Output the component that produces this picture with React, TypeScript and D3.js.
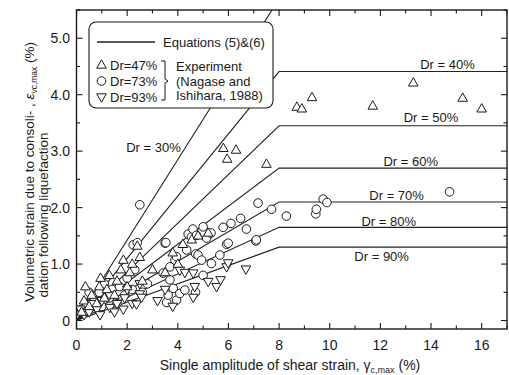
import { useEffect, useRef } from 'react';
import * as d3 from 'd3';

// Equations (5)&(6): plateau of each Dr line reached at gamma = 8 %
const drLevels = [30, 40, 50, 60, 70, 80, 90];
const drPlateaus = [5.7, 4.41, 3.45, 2.7, 2.1, 1.65, 1.3];
const gammaLimit = 8;

// label placement per Dr line (x in %, y in %)
const drLabelX = [3.04, 14.65, 14.0, 13.2, 12.64, 12.33, 12.05];
const drLabelY = [2.99, 4.45, 3.51, 2.74, 2.14, 1.67, 1.05];

// Experiment (Nagase and Ishihara, 1988)
const dr47: [number, number][] = [
  [0.2, 0.15], [0.3, 0.35], [0.35, 0.6], [0.5, 0.25], [0.6, 0.45], [0.8, 0.3], [0.9, 0.6], [0.95, 0.75],
  [1.1, 0.4], [1.2, 0.55], [1.3, 0.8], [1.5, 0.45], [1.6, 0.7], [1.75, 0.9], [1.85, 1.07], [2.0, 0.6],
  [2.1, 0.85], [2.2, 1.0], [2.4, 1.32], [2.5, 1.12], [2.6, 0.7], [3.0, 0.9], [3.5, 0.85], [3.8, 1.2],
  [4.0, 1.0], [4.2, 1.35], [4.55, 1.43], [4.8, 1.5], [5.2, 1.55], [5.8, 3.05], [6.3, 3.02], [5.95, 2.86],
  [7.5, 2.77], [8.7, 3.78], [8.9, 3.75], [9.3, 3.95], [11.7, 3.8], [13.3, 4.21], [15.25, 3.94], [16.0, 3.75],
];
const dr73: [number, number][] = [
  [0.2, 0.2], [0.4, 0.3], [0.5, 0.5], [0.7, 0.35], [0.9, 0.5], [1.0, 0.25], [1.1, 0.65], [1.3, 0.4],
  [1.4, 0.55], [1.6, 0.3], [1.7, 0.6], [1.9, 0.45], [2.0, 0.75], [2.2, 0.55], [2.3, 0.9], [2.24, 1.34],
  [2.4, 1.38], [2.5, 2.05], [2.6, 0.5], [2.8, 0.65], [3.5, 1.37], [3.53, 1.38], [3.56, 0.32], [3.62, 0.45],
  [3.69, 0.72], [3.69, 0.95], [3.42, 0.84], [3.82, 0.57], [3.89, 1.07], [3.95, 0.36], [3.95, 1.13],
  [4.08, 0.48], [4.28, 0.54], [4.35, 1.25], [4.41, 1.53], [4.54, 1.48], [4.6, 1.62], [4.74, 1.51],
  [4.71, 1.18], [4.8, 1.16], [4.94, 1.07], [5.0, 1.66], [5.14, 1.46], [5.31, 1.55], [5.33, 1.01],
  [5.66, 1.16], [5.79, 1.65], [5.93, 1.35], [5.99, 1.37], [6.1, 1.72], [6.48, 1.81], [6.71, 1.62],
  [7.08, 1.41], [7.1, 1.43], [7.17, 2.08], [7.7, 1.97], [8.29, 1.85], [9.45, 1.89], [9.47, 1.97],
  [9.74, 2.15], [9.89, 2.09], [14.73, 2.28], [5.0, 0.8], [4.7, 0.5],
];
const dr93: [number, number][] = [
  [0.15, 0.2], [0.3, 0.1], [0.5, 0.15], [0.6, 0.3], [0.8, 0.2], [0.93, 0.1], [1.0, 0.35], [1.32, 0.23],
  [1.3, 0.45], [1.5, 0.15], [1.6, 0.3], [1.85, 0.2], [1.9, 0.4], [2.0, 0.55], [2.2, 0.3], [2.37, 0.29],
  [2.5, 0.47], [2.57, 0.41], [2.5, 0.65], [3.2, 0.35], [3.5, 0.55], [3.8, 0.25], [4.08, 0.89], [4.28, 0.85],
  [4.61, 0.84], [4.61, 0.41], [4.67, 0.6], [5.2, 0.69], [5.53, 0.6], [5.69, 0.72], [5.93, 0.95],
  [5.99, 1.02], [6.69, 0.91],
];

const xTicks = [0, 2, 4, 6, 8, 10, 12, 14, 16];
const yTicks = [0, 1, 2, 3, 4, 5];
const yTickLabels = ['0', '1.0', '2.0', '3.0', '4.0', '5.0'];

const FONT = '"Liberation Sans", Arial, sans-serif';
const INK = '#1a1a1a';

export default function App() {
  const ref = useRef<SVGSVGElement>(null);

  useEffect(() => {
    if (!ref.current) return;
    const svg = d3.select(ref.current);
    svg.selectAll('*').remove();

    const x = d3.scaleLinear().domain([0, 17]).range([76.5, 507]);
    const y = d3.scaleLinear().domain([-0.15, 5.5]).range([329, 10]);
    const [x0, x1] = x.range();
    const [y0, y1] = y.range();

    svg.append('defs').append('clipPath').attr('id', 'plot')
      .append('rect').attr('x', x0).attr('y', y1).attr('width', x1 - x0).attr('height', y0 - y1);

    // Dr lines
    const line = d3.line<[number, number]>().x(d => x(d[0])).y(d => y(d[1]));
    const gLines = svg.append('g').attr('clip-path', 'url(#plot)');
    drLevels.forEach((dr, i) => {
      const p = drPlateaus[i];
      gLines.append('path')
        .attr('d', line([[0, 0], [gammaLimit, p], [17, p]]))
        .attr('fill', 'none').attr('stroke', '#222').attr('stroke-width', 1.1);
      svg.append('text')
        .attr('x', x(drLabelX[i])).attr('y', y(drLabelY[i]))
        .attr('text-anchor', 'middle').attr('font-family', FONT).attr('font-size', 13)
        .attr('fill', INK).text(`Dr = ${dr}%`);
    });

    // markers
    const triUp = 'M0,-5.2L4.8,3.2L-4.8,3.2Z';
    const triDown = 'M0,5.2L4.8,-3.2L-4.8,-3.2Z';
    const gPts = svg.append('g').attr('clip-path', 'url(#plot)');
    gPts.selectAll('.c').data(dr73).join('circle')
      .attr('cx', d => x(d[0])).attr('cy', d => y(d[1])).attr('r', 4.3)
      .attr('fill', 'white').attr('stroke', INK).attr('stroke-width', 1);
    gPts.selectAll('.d').data(dr93).join('path')
      .attr('transform', d => `translate(${x(d[0])},${y(d[1])})`).attr('d', triDown)
      .attr('fill', 'white').attr('stroke', INK).attr('stroke-width', 1);
    gPts.selectAll('.u').data(dr47).join('path')
      .attr('transform', d => `translate(${x(d[0])},${y(d[1])})`).attr('d', triUp)
      .attr('fill', 'white').attr('stroke', INK).attr('stroke-width', 1);

    // frame + ticks (inward on all sides)
    svg.append('rect').attr('x', x0).attr('y', y1).attr('width', x1 - x0).attr('height', y0 - y1)
      .attr('fill', 'none').attr('stroke', INK).attr('stroke-width', 1.4);
    const ax = svg.append('g').attr('stroke', INK).attr('stroke-width', 1.1);
    d3.range(0, 17.01, 1).forEach(v => {
      const len = v % 2 === 0 ? 6 : 3.5;
      ax.append('line').attr('x1', x(v)).attr('x2', x(v)).attr('y1', y0).attr('y2', y0 - len);
      ax.append('line').attr('x1', x(v)).attr('x2', x(v)).attr('y1', y1).attr('y2', y1 + len);
    });
    d3.range(0, 5.51, 0.5).forEach(v => {
      const len = Math.abs(v - Math.round(v)) < 1e-6 ? 6 : 3.5;
      ax.append('line').attr('y1', y(v)).attr('y2', y(v)).attr('x1', x0).attr('x2', x0 + len);
      ax.append('line').attr('y1', y(v)).attr('y2', y(v)).attr('x1', x1).attr('x2', x1 - len);
    });

    svg.selectAll('.xt').data(xTicks).join('text')
      .attr('x', d => x(d)).attr('y', 350).attr('text-anchor', 'middle')
      .attr('font-family', FONT).attr('font-size', 14).attr('fill', INK).text(d => d);
    svg.selectAll('.yt').data(yTicks).join('text')
      .attr('x', 70).attr('y', d => y(d) + 5).attr('text-anchor', 'end')
      .attr('font-family', FONT).attr('font-size', 14).attr('fill', INK).text((d, i) => yTickLabels[i]);

    // x title
    const xt = svg.append('text').attr('x', 290).attr('y', 370).attr('text-anchor', 'middle')
      .attr('font-family', FONT).attr('font-size', 14).attr('fill', INK);
    xt.append('tspan').text('Single amplitude of shear strain, γ');
    xt.append('tspan').attr('font-size', 9).attr('dy', 3).text('c,max');
    xt.append('tspan').attr('dy', -3).text(' (%)');

    // y title
    const yt = svg.append('text').attr('transform', 'translate(34,172) rotate(-90)')
      .attr('text-anchor', 'middle').attr('font-family', FONT).attr('font-size', 13.5).attr('fill', INK);
    yt.append('tspan').text('Volumetric strain due to consoli- , ');
    yt.append('tspan').attr('font-style', 'italic').text('ε');
    yt.append('tspan').attr('font-size', 8.5).attr('dy', 3).text('vc,max');
    yt.append('tspan').attr('dy', -3).text(' (%)');
    svg.append('text').attr('transform', 'translate(48,215) rotate(-90)')
      .attr('text-anchor', 'middle').attr('font-family', FONT).attr('font-size', 13.5).attr('fill', INK)
      .text('dation following liquefaction');

    // legend
    const lg = svg.append('g');
    lg.append('rect').attr('x', 89).attr('y', 22).attr('width', 184).attr('height', 86).attr('rx', 7)
      .attr('fill', 'white').attr('stroke', INK).attr('stroke-width', 1.1);
    lg.append('line').attr('x1', 97).attr('x2', 155).attr('y1', 42).attr('y2', 42)
      .attr('stroke', '#222').attr('stroke-width', 1.3);
    lg.append('text').attr('x', 163).attr('y', 47).attr('font-family', FONT).attr('font-size', 13)
      .attr('fill', INK).text('Equations (5)&(6)');
    const legendRows = [
      { label: 'Dr=47%', shape: 'up', cy: 65 },
      { label: 'Dr=73%', shape: 'circle', cy: 81 },
      { label: 'Dr=93%', shape: 'down', cy: 97 },
    ];
    legendRows.forEach(r => {
      if (r.shape === 'circle') {
        lg.append('circle').attr('cx', 101.5).attr('cy', r.cy).attr('r', 4.3)
          .attr('fill', 'white').attr('stroke', INK).attr('stroke-width', 1);
      } else {
        lg.append('path').attr('transform', `translate(101.5,${r.cy})`)
          .attr('d', r.shape === 'up' ? triUp : triDown)
          .attr('fill', 'white').attr('stroke', INK).attr('stroke-width', 1);
      }
      lg.append('text').attr('x', 110).attr('y', r.cy + 5).attr('font-family', FONT).attr('font-size', 13)
        .attr('fill', INK).text(r.label);
    });
    lg.append('path').attr('d', 'M161,61H165V79L168,81L165,83V100H161')
      .attr('fill', 'none').attr('stroke', INK).attr('stroke-width', 1);
    ['Experiment', '(Nagase and', 'Ishihara, 1988)'].forEach((t, i) => {
      lg.append('text').attr('x', 176).attr('y', 71 + i * 14.5).attr('font-family', FONT)
        .attr('font-size', 13).attr('fill', INK).text(t);
    });
  }, []);

  return (
    <svg ref={ref} width={509} height={375}
      style={{ position: 'absolute', left: 0, top: 0, background: 'white', display: 'block' }} />
  );
}
